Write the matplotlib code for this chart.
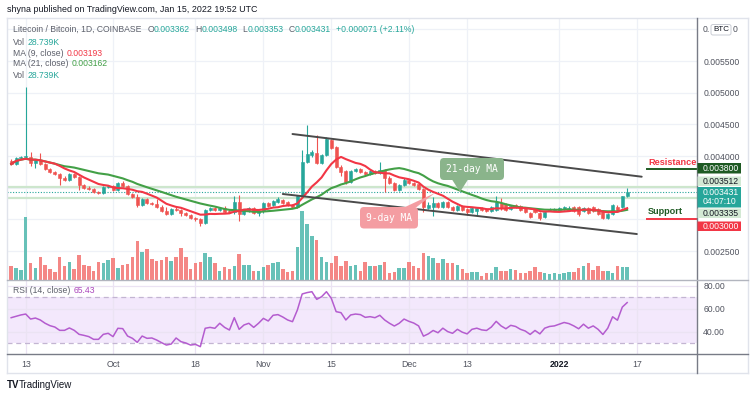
import matplotlib
matplotlib.use("Agg")
import matplotlib.pyplot as plt
import matplotlib.dates as mdates
from matplotlib.patches import FancyBboxPatch, Polygon
from matplotlib.lines import Line2D
import numpy as np
import pandas as pd

plt.rcParams['font.family'] = ['Liberation Sans', 'DejaVu Sans']

# ---------------- data ----------------
dates = pd.date_range('2021-09-10', periods=128, freq='D')

opens = [0.003921, 0.003874, 0.003968, 0.003984, 0.003984, 0.003889, 0.003937, 0.003874, 0.003795, 0.003747,
         0.003716, 0.003653, 0.003621, 0.003716, 0.003668, 0.003542, 0.003495, 0.003479, 0.003432, 0.003416,
         0.003511, 0.003526, 0.003463, 0.003574, 0.003526, 0.003400, 0.003353, 0.003226, 0.003321, 0.003258,
         0.003242, 0.003195, 0.003132, 0.003084, 0.003163, 0.003147, 0.003100, 0.003068, 0.003021, 0.003005,
         0.002942, 0.003147, 0.003179, 0.003147, 0.003179, 0.003132, 0.003116, 0.003274, 0.003084, 0.003147,
         0.003179, 0.003100, 0.003132, 0.003258, 0.003226, 0.003274, 0.003305, 0.003274, 0.003226, 0.003195,
         0.003368, 0.003905, 0.004016, 0.004047, 0.003889, 0.004016, 0.004253, 0.004142, 0.003826, 0.003763,
         0.003589, 0.003763, 0.003795, 0.003747, 0.003716, 0.003763, 0.003732, 0.003779, 0.003653, 0.003574,
         0.003463, 0.003542, 0.003621, 0.003574, 0.003558, 0.003479, 0.003179, 0.003195, 0.003258, 0.003195,
         0.003274, 0.003195, 0.003147, 0.003211, 0.003163, 0.003116, 0.003132, 0.003179, 0.003163, 0.003132,
         0.003147, 0.003258, 0.003242, 0.003163, 0.003226, 0.003211, 0.003179, 0.003100, 0.003163, 0.003100,
         0.003037, 0.003140, 0.003147, 0.003147, 0.003163, 0.003147, 0.003195, 0.003195, 0.003132, 0.003179,
         0.003195, 0.003163, 0.003132, 0.003021, 0.003084, 0.003195, 0.003195, 0.003362]

highs = [0.003953, 0.003984, 0.004000, 0.005090, 0.004063, 0.003953, 0.004047, 0.003889, 0.003811, 0.003763,
         0.003732, 0.003684, 0.003732, 0.003732, 0.003684, 0.003558, 0.003526, 0.003495, 0.003447, 0.003526,
         0.003542, 0.003542, 0.003589, 0.003605, 0.003542, 0.003416, 0.003400, 0.003337, 0.003337, 0.003274,
         0.003321, 0.003226, 0.003195, 0.003179, 0.003195, 0.003163, 0.003116, 0.003084, 0.003037, 0.003021,
         0.003163, 0.003195, 0.003195, 0.003195, 0.003211, 0.003147, 0.003368, 0.003384, 0.003163, 0.003195,
         0.003195, 0.003147, 0.003274, 0.003274, 0.003305, 0.003353, 0.003321, 0.003289, 0.003242, 0.003384,
         0.004095, 0.004489, 0.004095, 0.004332, 0.004032, 0.004300, 0.004268, 0.004158, 0.003858, 0.003779,
         0.003779, 0.003811, 0.003811, 0.003763, 0.003779, 0.003779, 0.003905, 0.003795, 0.003684, 0.003589,
         0.003558, 0.003653, 0.003637, 0.003589, 0.003574, 0.003495, 0.003274, 0.003353, 0.003274, 0.003289,
         0.003289, 0.003211, 0.003226, 0.003226, 0.003179, 0.003195, 0.003195, 0.003195, 0.003179, 0.003211,
         0.003368, 0.003337, 0.003258, 0.003226, 0.003242, 0.003226, 0.003195, 0.003116, 0.003179, 0.003116,
         0.003132, 0.003179, 0.003179, 0.003195, 0.003211, 0.003211, 0.003211, 0.003211, 0.003195, 0.003195,
         0.003211, 0.003179, 0.003147, 0.003100, 0.003242, 0.003226, 0.003368, 0.003498]

lows = [0.003858, 0.003858, 0.003953, 0.003968, 0.003842, 0.003811, 0.003858, 0.003779, 0.003732, 0.003700,
        0.003542, 0.003605, 0.003605, 0.003653, 0.003463, 0.003479, 0.003463, 0.003416, 0.003400, 0.003400,
        0.003495, 0.003447, 0.003447, 0.003511, 0.003384, 0.003337, 0.003195, 0.003211, 0.003242, 0.003226,
        0.003179, 0.003116, 0.003068, 0.003068, 0.003132, 0.003053, 0.003053, 0.003005, 0.002974, 0.002895,
        0.002926, 0.003132, 0.003132, 0.003132, 0.003100, 0.003100, 0.003084, 0.002974, 0.003068, 0.003116,
        0.003084, 0.003053, 0.003100, 0.003195, 0.003211, 0.003258, 0.003242, 0.003211, 0.003179, 0.003179,
        0.003353, 0.003889, 0.003984, 0.003874, 0.003874, 0.004000, 0.004111, 0.003811, 0.003684, 0.003558,
        0.003574, 0.003747, 0.003732, 0.003700, 0.003700, 0.003716, 0.003716, 0.003432, 0.003558, 0.003447,
        0.003447, 0.003526, 0.003558, 0.003526, 0.003463, 0.003116, 0.003163, 0.003053, 0.003179, 0.003179,
        0.003179, 0.003132, 0.003132, 0.003132, 0.003068, 0.003100, 0.003068, 0.003132, 0.003116, 0.003116,
        0.003132, 0.003147, 0.003132, 0.003147, 0.003179, 0.003132, 0.003100, 0.003021, 0.003100, 0.002989,
        0.003021, 0.003132, 0.003140, 0.003140, 0.003147, 0.003140, 0.003116, 0.003053, 0.003116, 0.003084,
        0.003116, 0.003068, 0.003005, 0.003005, 0.003068, 0.003132, 0.003179, 0.003353]

closes = [0.003874, 0.003968, 0.003984, 0.004000, 0.003889, 0.003937, 0.003874, 0.003795, 0.003747, 0.003716,
          0.003653, 0.003621, 0.003716, 0.003668, 0.003542, 0.003495, 0.003479, 0.003432, 0.003416, 0.003511,
          0.003526, 0.003463, 0.003574, 0.003526, 0.003400, 0.003353, 0.003226, 0.003321, 0.003258, 0.003242,
          0.003195, 0.003132, 0.003084, 0.003163, 0.003147, 0.003100, 0.003068, 0.003021, 0.003005, 0.002942,
          0.003147, 0.003179, 0.003147, 0.003179, 0.003116, 0.003116, 0.003274, 0.003084, 0.003147, 0.003179,
          0.003100, 0.003132, 0.003258, 0.003211, 0.003289, 0.003321, 0.003258, 0.003226, 0.003195, 0.003368,
          0.003905, 0.004032, 0.004063, 0.003889, 0.004016, 0.004268, 0.004126, 0.003826, 0.003747, 0.003589,
          0.003763, 0.003795, 0.003747, 0.003716, 0.003763, 0.003732, 0.003779, 0.003653, 0.003574, 0.003463,
          0.003542, 0.003621, 0.003574, 0.003542, 0.003479, 0.003195, 0.003226, 0.003258, 0.003195, 0.003274,
          0.003195, 0.003147, 0.003211, 0.003147, 0.003116, 0.003179, 0.003179, 0.003140, 0.003132, 0.003195,
          0.003274, 0.003179, 0.003147, 0.003211, 0.003195, 0.003147, 0.003116, 0.003037, 0.003116, 0.003021,
          0.003116, 0.003163, 0.003163, 0.003179, 0.003195, 0.003179, 0.003132, 0.003084, 0.003179, 0.003100,
          0.003132, 0.003084, 0.003021, 0.003084, 0.003226, 0.003147, 0.003362, 0.003431]

volumes_k = [32.3, 27.1, 23.3, 141.7, 38.4, 27.1, 51.3, 34.6, 24.9, 17.4,
             52.7, 32.3, 41.4, 24.9, 57.2, 34.6, 32.3, 21.0, 41.4, 38.4,
             45.2, 49.0, 27.1, 34.6, 36.2, 51.3, 88.8, 64.0, 70.1, 47.5,
             43.6, 45.9, 51.3, 43.6, 51.3, 71.6, 52.7, 24.9, 38.4, 41.4,
             60.3, 52.7, 38.4, 21.0, 28.7, 24.9, 32.3, 58.8, 33.9, 33.9,
             20.3, 20.3, 30.1, 34.6, 37.7, 40.0, 24.9, 17.4, 20.3, 73.9,
             155.9, 126.6, 100.1, 91.1, 52.0, 40.0, 38.4, 54.9, 32.3, 43.6,
             32.3, 34.6, 20.3, 41.4, 32.3, 32.3, 34.6, 41.4, 15.8, 18.8,
             27.1, 26.4, 41.4, 32.3, 26.4, 60.3, 54.9, 49.0, 38.4, 47.5,
             38.4, 38.4, 34.6, 24.9, 15.8, 18.8, 18.8, 9.7, 15.8, 15.8,
             28.7, 21.0, 21.0, 24.9, 23.3, 15.8, 15.8, 21.0, 28.7, 18.8,
             15.8, 13.6, 15.8, 13.6, 15.8, 18.8, 18.8, 27.1, 32.3, 38.4,
             23.3, 32.3, 21.0, 21.0, 15.8, 31.0, 28.7, 28.739]

rsi_vals = [52.2, 53.4, 54.6, 55.4, 51.0, 51.9, 50.2, 47.3, 45.2, 44.0,
            41.1, 41.1, 43.2, 41.1, 37.6, 36.7, 35.6, 33.2, 33.2, 37.6,
            38.5, 35.6, 42.9, 42.6, 36.1, 34.1, 30.6, 36.1, 34.1, 34.4,
            32.6, 30.3, 28.2, 29.1, 34.4, 31.2, 30.0, 28.2, 28.8, 26.8,
            42.9, 43.7, 42.9, 47.3, 43.7, 41.4, 52.2, 42.0, 45.8, 47.3,
            43.7, 47.3, 51.6, 49.3, 54.3, 54.9, 52.8, 50.2, 48.7, 58.9,
            73.0, 74.2, 75.0, 68.3, 70.6, 75.0, 69.2, 57.5, 56.6, 50.2,
            54.6, 55.4, 54.9, 52.5, 53.1, 52.2, 54.3, 50.2, 47.3, 44.9,
            47.3, 51.0, 49.0, 47.5, 45.0, 36.0, 38.0, 41.0, 39.0, 43.0,
            40.0, 38.5, 42.0, 39.5, 38.0, 42.0, 43.0, 41.5, 41.0, 44.0,
            49.0, 45.0, 42.5, 45.5, 44.5, 42.0, 40.5, 37.5, 41.0, 38.0,
            43.0, 44.5, 45.0, 46.5, 48.0, 47.0, 45.0, 42.5, 46.5, 43.0,
            45.0, 42.0, 37.5, 43.0, 53.0, 50.0, 61.5, 65.43]

tick_dates = ['2021-09-13', '2021-10-01', '2021-10-18', '2021-11-01', '2021-11-15',
              '2021-12-01', '2021-12-13', '2022-01-01', '2022-01-17']
tick_labels = ['13', 'Oct', '18', 'Nov', '15', 'Dec', '13', '2022', '17']

price_ticks = [0.0025, 0.003, 0.0035, 0.004, 0.0045, 0.005, 0.0055, 0.006]
price_tick_labels = ['0.002500', '', '', '0.004000', '0.004500', '0.005000', '0.005500', '']

# drawn levels / channel
level_a, level_b, last_price = 0.003512, 0.003335, 0.003431
resistance, support = 0.0038, 0.0030
upper_channel = (['2021-11-07', '2022-01-18'], [0.004347, 0.003673])
lower_channel = (['2021-11-05', '2022-01-17'], [0.003400, 0.002768])
level_start = '2022-01-19'

assert len(opens) == len(highs) == len(lows) == len(closes) == len(volumes_k) == len(rsi_vals) == len(dates)

# ---------------- figure ----------------
W, H = 750, 398
TEAL = '#26a69a'
RED = '#ef5350'
GRAY = '#5d606b'

fig = plt.figure(figsize=(W / 100, H / 100), dpi=100)
fig.patch.set_facecolor('white')
T = fig.dpi_scale_trans


def rect(l, t, r, b):
    return [l / W, 1 - b / H, (r - l) / W, (b - t) / H]


def ptxt(x, y, s, **kw):
    return fig.text(x / 100, (H - y) / 100, s, transform=T, **kw)


def pline(x1, y1, x2, y2, **kw):
    fig.add_artist(Line2D([x1 / 100, x2 / 100], [(H - y1) / 100, (H - y2) / 100], transform=T, **kw))


def pbox(l, t, r, b, fc, ec='none', rs=0.0, lw=0.8, z=5):
    p = FancyBboxPatch((l / 100, (H - b) / 100), (r - l) / 100, (b - t) / 100,
                       boxstyle=f'round,pad=0,rounding_size={rs}', transform=T,
                       fc=fc, ec=ec, lw=lw, zorder=z)
    fig.add_artist(p)


L, R, TOP, MID, BOT = 7, 697, 18, 280, 354

ax = fig.add_axes(rect(L, TOP, R, MID))
ax_vol = fig.add_axes(rect(L, TOP, R, MID), sharex=ax, facecolor='none')
ax_rsi = fig.add_axes(rect(L, MID, R, BOT), sharex=ax)

xd = mdates.date2num(dates)
x13 = mdates.date2num(pd.Timestamp('2021-09-13'))
ax.set_xlim(x13 - 3.86, x13 + 138.4)

o = np.array(opens); h = np.array(highs); lo = np.array(lows); c = np.array(closes)
up = c >= o
cols = np.where(up, TEAL, RED)

# grid & ticks
tick_x = mdates.date2num(pd.to_datetime(tick_dates))
ax.set_xticks(tick_x)
ax.set_xticklabels(tick_labels)
for a in (ax, ax_vol, ax_rsi):
    for s in a.spines.values():
        s.set_visible(False)
ax.set_axisbelow(True)
ax.grid(True, color='#eef1f7', lw=0.9)
ax.tick_params(axis='x', labelbottom=False, length=0)
ax.set_ylim(0.0020421, 0.0061790)
ax.set_yticks(price_ticks)
ax.set_yticklabels(price_tick_labels)
ax.yaxis.tick_right()
ax.tick_params(axis='y', length=0, pad=4.5, labelsize=6.2, labelcolor='#50535e')

# price levels
ax.axhline(level_a, color='#cde6cd', lw=1.6, zorder=1)
ax.axhline(level_b, color='#cde6cd', lw=1.6, zorder=1)
ax.axhline(last_price, color=TEAL, lw=0.8, ls=(0, (1, 1.5)), zorder=2)

# candles
ax.vlines(xd, lo, h, colors=cols, lw=0.8, zorder=3)
ax.bar(xd, np.abs(c - o), bottom=np.minimum(o, c), width=0.62, color=cols,
       edgecolor=cols, lw=0.4, zorder=4)

# moving averages
ma9 = pd.Series(closes).rolling(9, min_periods=1).mean()
ma21 = pd.Series(closes).rolling(21, min_periods=1).mean()
ax.plot(xd, ma21, color='#43a047', lw=1.5, zorder=5)
ax.plot(xd, ma9, color='#f23645', lw=1.5, zorder=6)

# channel
for dts, prs in (upper_channel, lower_channel):
    ax.plot(mdates.date2num(pd.to_datetime(dts)), prs, color='#4a4a4a', lw=1.4, zorder=7,
            solid_capstyle='round')

# resistance / support short lines
xs = mdates.date2num(pd.Timestamp(level_start))
xe = ax.get_xlim()[1]
ax.plot([xs, xe], [resistance, resistance], color='#1e5a23', lw=1.4, zorder=7)
ax.plot([xs, xe], [support, support], color='#f23645', lw=1.4, zorder=7)

# volume
ax_vol.bar(xd, volumes_k, width=0.72, color=np.where(up, '#67c1b8', '#f48785'), zorder=2)
ax_vol.set_ylim(0, 592)
ax_vol.tick_params(axis='both', length=0, labelbottom=False, labelleft=False)
ax_vol.set_yticks([])

# RSI
ax_rsi.set_ylim(20.35, 85.26)
ax_rsi.axhspan(30, 70, color='#f3e8fc', zorder=0, lw=0)
ax_rsi.set_axisbelow(True)
ax_rsi.set_yticks([40, 60, 80])
ax_rsi.set_yticklabels(['40.00', '60.00', '80.00'])
ax_rsi.yaxis.tick_right()
ax_rsi.grid(True, color='#ebe3f3', lw=0.9)
ax_rsi.axhline(70, color='#c3b5d2', lw=0.9, ls=(0, (4, 3)))
ax_rsi.axhline(30, color='#c3b5d2', lw=0.9, ls=(0, (4, 3)))
ax_rsi.plot(xd, rsi_vals, color='#b45ccf', lw=1.1, zorder=4)
ax_rsi.tick_params(axis='y', length=0, pad=4.5, labelsize=6.2, labelcolor='#50535e')
ax_rsi.tick_params(axis='x', length=0, pad=4.5, labelsize=6.3, labelcolor='#50535e')
for lab in ax_rsi.get_xticklabels():
    if lab.get_text() == '2022':
        lab.set_fontweight('bold')
        lab.set_color('#131722')

# ---------- frame & separators ----------
pline(L, TOP, 748, TOP, color='#e0e3eb', lw=1)
pline(L, 373, 748, 373, color='#e0e3eb', lw=1)
pline(L, TOP, L, 373, color='#e0e3eb', lw=1)
pline(748, TOP, 748, 373, color='#e0e3eb', lw=1)
pline(R, TOP, R, 373, color='#787b86', lw=1)
pline(L, MID, 748, MID, color='#b2b5be', lw=1)
pline(L, BOT, 748, BOT, color='#787b86', lw=1)

# ---------- price axis boxes ----------
def price_box(t, b, fc, txt, tc):
    pbox(R + 0.5, t, 741, b, fc)
    ptxt(703, (t + b) / 2, txt, color=tc, fontsize=6.2, va='center', ha='left', zorder=6)

price_box(163, 173.5, '#1e5a23', '0.003800', 'white')
price_box(176.5, 186, '#d3e9d4', '0.003512', '#131722')
pbox(R + 0.5, 187, 741, 207.5, TEAL)
ptxt(703, 192.5, f'{closes[-1]:.6f}', color='white', fontsize=6.2, va='center', ha='left', zorder=6)
ptxt(703, 202, '04:07:10', color='white', fontsize=6.2, va='center', ha='left', zorder=6)
price_box(208.5, 218, '#d3e9d4', '0.003335', '#131722')
price_box(221.5, 231, '#f23645', '0.003000', 'white')

# top label partly hidden by the BTC badge: "0." [BTC] "0"
ptxt(703, 29.8, '0.', color='#50535e', fontsize=6.2, va='center', ha='left')
pbox(711, 24.5, 731, 35, 'white', ec='#c9ccd4', rs=0.02, lw=0.7, z=6)
ptxt(721, 29.8, 'BTC', color='#131722', fontsize=5.8, va='center', ha='center', zorder=7)
ptxt(733, 29.8, '0', color='#50535e', fontsize=6.2, va='center', ha='left')

# ---------- Resistance / Support ----------
ptxt(648, 162.5, 'Resistance', color='#f23645', fontsize=6.6, fontweight='bold', va='center', ha='left')
ptxt(648, 212, 'Support', color='#1e5a23', fontsize=6.6, fontweight='bold', va='center', ha='left')

# ---------- MA callouts ----------
pbox(360, 207, 418, 228.5, '#f49da2', rs=0.04, z=8)
fig.add_artist(Polygon([(404 / 100, (H - 207.5) / 100), (416 / 100, (H - 207.5) / 100),
                        (435 / 100, (H - 193) / 100)], closed=True, transform=T,
                       fc='#f49da2', ec='none', zorder=8))
ptxt(389, 218, '9-day MA', color='white', fontsize=6.9, family='DejaVu Sans Mono',
     va='center', ha='center', zorder=9)

pbox(440, 158, 504, 180, '#8ab48b', rs=0.04, z=8)
fig.add_artist(Polygon([(452 / 100, (H - 179.5) / 100), (468 / 100, (H - 179.5) / 100),
                        (460 / 100, (H - 192) / 100)], closed=True, transform=T,
                       fc='#8ab48b', ec='none', zorder=8))
ptxt(472, 169, '21-day MA', color='white', fontsize=6.9, family='DejaVu Sans Mono',
     va='center', ha='center', zorder=9)

# ---------- header & legends ----------
ptxt(7, 10, 'shyna published on TradingView.com, Jan 15, 2022 19:52 UTC',
     color='#131722', fontsize=6.4, va='center', ha='left')

renderer = fig.canvas.get_renderer()


def pieces(x, y, items, size=6.2):
    for s, col, gap in items:
        t = ptxt(x, y, s, color=col, fontsize=size, va='center', ha='left', zorder=9)
        x += t.get_window_extent(renderer=renderer).width + gap


pieces(13, 29.3, [('Litecoin / Bitcoin, 1D, COINBASE', GRAY, 6),
                  ('O', GRAY, 0), (f'{opens[-1]:.6f}', TEAL, 5),
                  ('H', GRAY, 0), (f'{highs[-1]:.6f}', TEAL, 5),
                  ('L', GRAY, 0), (f'{lows[-1]:.6f}', TEAL, 5),
                  ('C', GRAY, 0), (f'{closes[-1]:.6f}', TEAL, 5),
                  ('+0.000071 (+2.11%)', TEAL, 0)])
pieces(13, 42.5, [('Vol', GRAY, 3), ('28.739K', TEAL, 0)])
pieces(13, 53, [('MA (9, close)', GRAY, 3), ('0.003193', '#f23645', 0)])
pieces(13, 63.5, [('MA (21, close)', GRAY, 3), ('0.003162', '#43a047', 0)])
pieces(13, 76, [('Vol', GRAY, 3), ('28.739K', TEAL, 0)])
pieces(13, 290.7, [('RSI (14, close)', GRAY, 3), (f'{rsi_vals[-1]:.2f}', '#ab47bc', 0)])

# footer logo
ptxt(7, 385, 'TV', color='#131722', fontsize=7, fontweight='heavy', va='center', ha='left')
ptxt(19, 385, 'TradingView', color='#131722', fontsize=7, va='center', ha='left')

fig.savefig('out.png', dpi=100)
